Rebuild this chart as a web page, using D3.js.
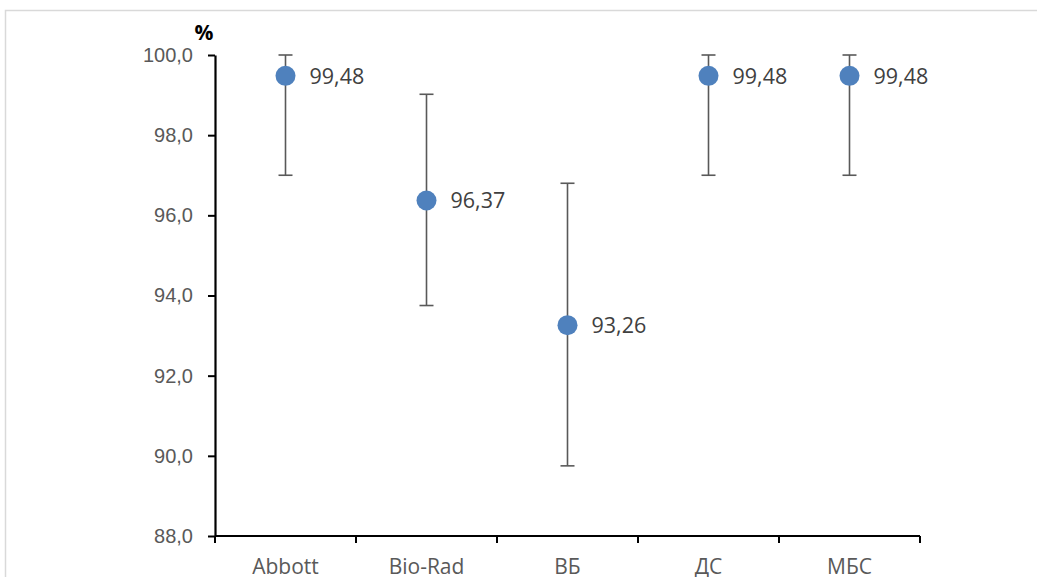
<!DOCTYPE html>
<html>
<head>
<meta charset="utf-8">
<script src="https://cdn.jsdelivr.net/npm/d3@7"></script>
<style>
  body { margin: 0; background: #fff; }
  svg { font-family: "Open Sans", sans-serif; }
</style>
</head>
<body>
<svg></svg>
<script>
const categories = ["Abbott", "Bio-Rad", "ВБ", "ДС", "МБС"];
const values = [99.48, 96.37, 93.26, 99.48, 99.48];
const lower = [97.0, 93.75, 89.75, 97.0, 97.0];
const upper = [100.0, 99.02, 96.8, 100.0, 100.0];
const yTicks = [88, 90, 92, 94, 96, 98, 100];

const svg = d3.select("svg")
    .attr("width", 1037)
    .attr("height", 577);

// light chart-area frame (top and left edges only are in view)
svg.append("path")
    .attr("d", "M5.5,577 V10.5 H1037")
    .attr("fill", "none")
    .attr("stroke", "#d9d9d9")
    .attr("stroke-width", 1.5);

const margin = {top: 55, left: 215},
      width = 705,
      height = 481;

const g = svg.append("g")
    .attr("transform", `translate(${margin.left},${margin.top})`);

const x = d3.scaleBand()
    .domain(categories)
    .range([0, width]);

const y = d3.scaleLinear()
    .domain([88, 100])
    .range([height, 0]);

// y axis
const yAxis = g.append("g")
    .call(d3.axisLeft(y).tickValues(yTicks).tickSize(7).tickSizeOuter(0)
        .tickFormat(d => d3.format(".1f")(d).replace(".", ",")));
yAxis.select(".domain").attr("stroke", "#000").attr("stroke-width", 2.2);
yAxis.selectAll(".tick line").attr("stroke", "#000").attr("stroke-width", 2);
yAxis.selectAll(".tick text")
    .attr("x", -22)
    .attr("fill", "#595959")
    .style("font-size", "20px");

// x axis with ticks at band boundaries
const xAxis = g.append("g")
    .attr("transform", `translate(0,${height})`);
xAxis.append("line")
    .attr("x1", 0).attr("x2", width)
    .attr("stroke", "#000").attr("stroke-width", 2.2);
const bounds = categories.map(c => x(c)).concat([width]);
xAxis.selectAll(".xt")
    .data(bounds)
    .enter().append("line")
    .attr("class", "xt")
    .attr("x1", d => d).attr("x2", d => d)
    .attr("y1", 0).attr("y2", 7)
    .attr("stroke", "#000").attr("stroke-width", 2);
xAxis.selectAll(".xl")
    .data(categories)
    .enter().append("text")
    .attr("class", "xl")
    .attr("x", d => x(d) + x.bandwidth() / 2)
    .attr("y", 38)
    .attr("text-anchor", "middle")
    .attr("fill", "#595959")
    .style("font-size", "21px")
    .text(d => d);

// error bars
const eb = g.selectAll(".eb")
    .data(categories)
    .enter().append("g")
    .attr("class", "eb")
    .attr("transform", d => `translate(${x(d) + x.bandwidth() / 2},0)`);
eb.append("line")
    .attr("y1", (d, i) => y(lower[i]))
    .attr("y2", (d, i) => y(upper[i]))
    .attr("stroke", "#595959").attr("stroke-width", 1.6);
eb.append("line")
    .attr("x1", -7).attr("x2", 7)
    .attr("y1", (d, i) => y(lower[i])).attr("y2", (d, i) => y(lower[i]))
    .attr("stroke", "#595959").attr("stroke-width", 1.6);
eb.append("line")
    .attr("x1", -7).attr("x2", 7)
    .attr("y1", (d, i) => y(upper[i])).attr("y2", (d, i) => y(upper[i]))
    .attr("stroke", "#595959").attr("stroke-width", 1.6);

// points
eb.append("circle")
    .attr("cy", (d, i) => y(values[i]))
    .attr("r", 10)
    .attr("fill", "#4f81bd");

// data labels
eb.append("text")
    .attr("x", 24)
    .attr("y", (d, i) => y(values[i]))
    .attr("dy", "0.36em")
    .attr("fill", "#404040")
    .style("font-size", "21.5px")
    .text((d, i) => d3.format(".2f")(values[i]).replace(".", ","));

// unit label
svg.append("text")
    .attr("x", 204)
    .attr("y", 40)
    .attr("text-anchor", "middle")
    .attr("font-weight", "bold")
    .attr("fill", "#000")
    .style("font-size", "21px")
    .text("%");
</script>
</body>
</html>
